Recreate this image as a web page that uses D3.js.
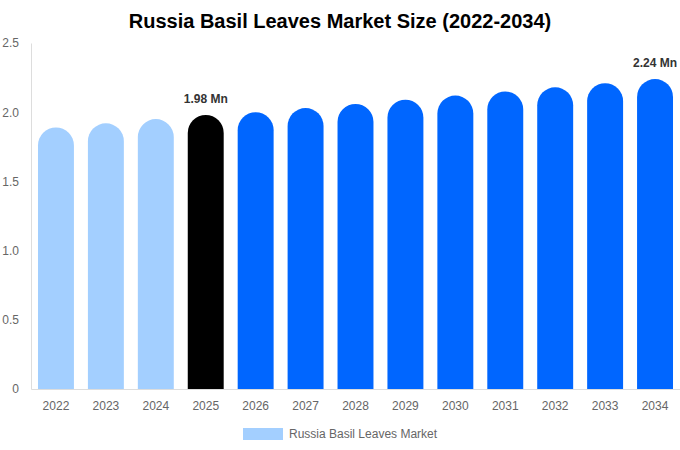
<!DOCTYPE html>
<html>
<head>
<meta charset="utf-8">
<script src="https://cdn.jsdelivr.net/npm/d3@7"></script>
<style>
  body { margin: 0; background: #fff; font-family: "Liberation Sans", Arial, sans-serif; }
</style>
</head>
<body>
<div id="chart"></div>
<script>
// chart data
const years = ["2022", "2023", "2024", "2025", "2026", "2027", "2028", "2029", "2030", "2031", "2032", "2033", "2034"];
const values = [1.89, 1.92, 1.95, 1.98, 2.00, 2.03, 2.06, 2.09, 2.12, 2.15, 2.18, 2.21, 2.24];
const yTicks = [0, 0.5, 1.0, 1.5, 2.0, 2.5];
const labelled = ["2025", "2034"];

const width = 680, height = 450;
const margin = { top: 43, right: 0, bottom: 61, left: 31 };

const svg = d3.select("#chart").append("svg")
  .attr("width", width)
  .attr("height", height);

// title
svg.append("text")
  .attr("x", width / 2)
  .attr("y", 28)
  .attr("text-anchor", "middle")
  .style("font-size", "20px")
  .style("font-weight", "bold")
  .attr("fill", "#000")
  .text("Russia Basil Leaves Market Size (2022-2034)");

const x = d3.scaleBand()
  .domain(years)
  .range([margin.left, width - margin.right])
  .paddingInner(0.28)
  .paddingOuter(0.14);

const y = d3.scaleLinear()
  .domain([0, 2.5])
  .range([height - margin.bottom, margin.top]);

// y axis
const yAxis = svg.append("g")
  .attr("transform", `translate(${margin.left},0)`)
  .call(d3.axisLeft(y).tickValues(yTicks).tickSize(0).tickPadding(12)
    .tickFormat(d => d === 0 ? "0" : d3.format(".1f")(d)));
yAxis.select(".domain").attr("stroke", "#ddd");
yAxis.selectAll("text").style("font-size", "12px").attr("fill", "#666")
  .style("font-family", "Liberation Sans, Arial, sans-serif");

// x axis
const xAxis = svg.append("g")
  .attr("transform", `translate(0,${height - margin.bottom})`)
  .call(d3.axisBottom(x).tickSize(0).tickPadding(12));
xAxis.select(".domain").attr("stroke", "#ddd");
xAxis.selectAll("text").style("font-size", "12px").attr("fill", "#666")
  .style("font-family", "Liberation Sans, Arial, sans-serif");

function colorFor(yr) {
  const n = +yr;
  if (n < 2025) return "#a3cfff";
  if (n === 2025) return "#000000";
  return "#0066ff";
}

// bars with round tops
const bw = x.bandwidth();
const r = bw / 2;
svg.append("g").selectAll("path")
  .data(years.map((d, i) => ({ year: d, value: values[i] })))
  .enter()
  .append("path")
  .attr("fill", d => colorFor(d.year))
  .attr("d", d => {
    const x0 = x(d.year), x1 = x0 + bw;
    const yb = y(0), yt = y(d.value);
    return `M${x0},${yb} L${x0},${yt + r} A${r},${r} 0 0 1 ${x1},${yt + r} L${x1},${yb} Z`;
  });

// value labels
svg.append("g").selectAll("text")
  .data(years.map((d, i) => ({ year: d, value: values[i] })).filter(d => labelled.includes(d.year)))
  .enter()
  .append("text")
  .attr("x", d => x(d.year) + bw / 2)
  .attr("y", d => y(d.value) - 12)
  .attr("text-anchor", "middle")
  .style("font-size", "12px")
  .style("font-weight", "bold")
  .attr("fill", "#333")
  .text(d => d.value.toFixed(2) + " Mn");

// legend
const legend = svg.append("g");
legend.append("rect")
  .attr("x", 243).attr("y", 428)
  .attr("width", 40).attr("height", 12)
  .attr("fill", "#a3cfff");
legend.append("text")
  .attr("x", 289).attr("y", 438)
  .style("font-size", "12px")
  .attr("fill", "#666")
  .text("Russia Basil Leaves Market");
</script>
</body>
</html>
